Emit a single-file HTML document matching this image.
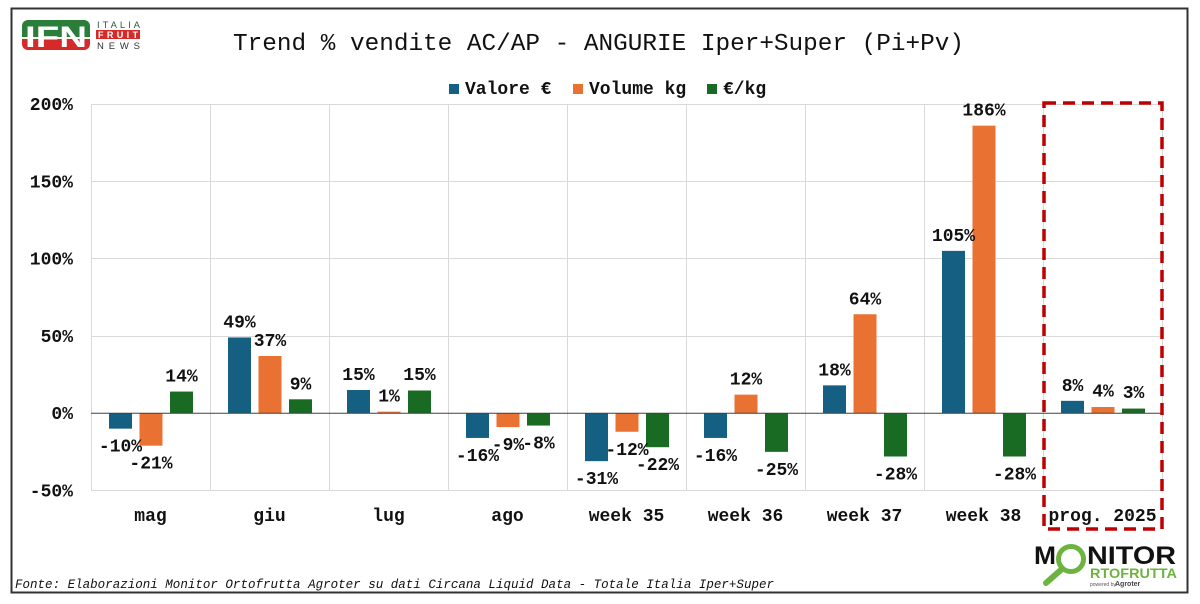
<!DOCTYPE html>
<html>
<head>
<meta charset="utf-8">
<style>
  html,body{margin:0;padding:0;background:#fff;}
  svg{display:block;}
  .mono{font-family:"Liberation Mono","DejaVu Sans Mono",monospace;}
  .lbl{font-family:"Liberation Mono","DejaVu Sans Mono",monospace;font-weight:bold;font-size:18px;fill:#111;}
</style>
</head>
<body>
<svg width="1200" height="604" viewBox="0 0 1200 604" xmlns="http://www.w3.org/2000/svg">
  <rect x="0" y="0" width="1200" height="604" fill="#fff"/>
  <!-- outer border -->
  <rect x="11.5" y="8.5" width="1176" height="584" fill="none" stroke="#333" stroke-width="2"/>

  <!-- IFN logo -->
  <defs>
    <clipPath id="ifnclip"><rect x="22" y="20" width="68" height="30" rx="6" ry="6"/></clipPath>
  </defs>
  <g clip-path="url(#ifnclip)">
    <rect x="22" y="20" width="68" height="17" fill="#2b7d3a"/>
    <rect x="22" y="37" width="68" height="2" fill="#f4f4f4"/>
    <rect x="22" y="39" width="68" height="11" fill="#d42a2a"/>
  </g>
  <text x="25" y="47" font-family="Liberation Sans, sans-serif" font-weight="bold" font-size="30" fill="#fff" textLength="62" lengthAdjust="spacingAndGlyphs">IFN</text>
  <text x="97" y="28" font-family="Liberation Sans, sans-serif" font-size="9.5" fill="#2b5d3a" textLength="43" lengthAdjust="spacing">ITALIA</text>
  <rect x="96" y="30" width="44" height="9" fill="#d42a2a"/>
  <text x="98" y="38" font-family="Liberation Sans, sans-serif" font-size="9" fill="#fff" font-weight="bold" textLength="40" lengthAdjust="spacing">FRUIT</text>
  <text x="97" y="49" font-family="Liberation Sans, sans-serif" font-size="9.5" fill="#333" textLength="43" lengthAdjust="spacing">NEWS</text>

  <!-- Title -->
  <text class="mono" x="233" y="50" font-size="24" fill="#111" textLength="731" lengthAdjust="spacingAndGlyphs">Trend % vendite AC/AP - ANGURIE Iper+Super (Pi+Pv)</text>

  <!-- Legend -->
  <rect x="449" y="84" width="10" height="10" fill="#156082"/>
  <text class="lbl" x="465" y="94">Valore €</text>
  <rect x="573" y="84" width="10" height="10" fill="#E97132"/>
  <text class="lbl" x="589" y="94">Volume kg</text>
  <rect x="707" y="84" width="10" height="10" fill="#196B24"/>
  <text class="lbl" x="723" y="94">€/kg</text>

  <!-- Gridlines horizontal -->
  <g stroke="#d9d9d9" stroke-width="1">
    <line x1="91" y1="104.5" x2="1162" y2="104.5"/>
    <line x1="91" y1="181.5" x2="1162" y2="181.5"/>
    <line x1="91" y1="258.5" x2="1162" y2="258.5"/>
    <line x1="91" y1="336.5" x2="1162" y2="336.5"/>
    <line x1="91" y1="490.5" x2="1162" y2="490.5"/>
    <!-- vertical -->
    <line x1="91.5" y1="104" x2="91.5" y2="491"/>
    <line x1="210.5" y1="104" x2="210.5" y2="491"/>
    <line x1="329.5" y1="104" x2="329.5" y2="491"/>
    <line x1="448.5" y1="104" x2="448.5" y2="491"/>
    <line x1="567.5" y1="104" x2="567.5" y2="491"/>
    <line x1="686.5" y1="104" x2="686.5" y2="491"/>
    <line x1="805.5" y1="104" x2="805.5" y2="491"/>
    <line x1="924.5" y1="104" x2="924.5" y2="491"/>
    <line x1="1043.5" y1="104" x2="1043.5" y2="491"/>
    <line x1="1162.5" y1="104" x2="1162.5" y2="491"/>
  </g>

  <!-- Y labels -->
  <g class="lbl" text-anchor="end">
    <text x="73" y="110">200%</text>
    <text x="73" y="187.5">150%</text>
    <text x="73" y="264.5">100%</text>
    <text x="73" y="342">50%</text>
    <text x="73" y="419">0%</text>
    <text x="73" y="496.5">-50%</text>
  </g>

  <!-- Bars -->
  <g>
    <!-- mag -->
    <rect x="109" y="413.2" width="23" height="15.46" fill="#156082"/>
    <rect x="139.5" y="413.2" width="23" height="32.47" fill="#E97132"/>
    <rect x="170" y="391.56" width="23" height="21.64" fill="#196B24"/>
    <!-- giu -->
    <rect x="228" y="337.45" width="23" height="75.75" fill="#156082"/>
    <rect x="258.5" y="356.0" width="23" height="57.2" fill="#E97132"/>
    <rect x="289" y="399.29" width="23" height="13.91" fill="#196B24"/>
    <!-- lug -->
    <rect x="347" y="390.0" width="23" height="23.2" fill="#156082"/>
    <rect x="377.5" y="411.65" width="23" height="1.55" fill="#E97132"/>
    <rect x="408" y="390.5" width="23" height="22.7" fill="#196B24"/>
    <!-- ago -->
    <rect x="466" y="413.2" width="23" height="24.74" fill="#156082"/>
    <rect x="496.5" y="413.2" width="23" height="13.91" fill="#E97132"/>
    <rect x="527" y="413.2" width="23" height="12.37" fill="#196B24"/>
    <!-- week 35 -->
    <rect x="585" y="413.2" width="23" height="47.93" fill="#156082"/>
    <rect x="615.5" y="413.2" width="23" height="18.55" fill="#E97132"/>
    <rect x="646" y="413.2" width="23" height="34.01" fill="#196B24"/>
    <!-- week 36 -->
    <rect x="704" y="413.2" width="23" height="24.74" fill="#156082"/>
    <rect x="734.5" y="394.65" width="23" height="18.55" fill="#E97132"/>
    <rect x="765" y="413.2" width="23" height="38.65" fill="#196B24"/>
    <!-- week 37 -->
    <rect x="823" y="385.37" width="23" height="27.83" fill="#156082"/>
    <rect x="853.5" y="314.26" width="23" height="98.94" fill="#E97132"/>
    <rect x="884" y="413.2" width="23" height="43.29" fill="#196B24"/>
    <!-- week 38 -->
    <rect x="942" y="250.87" width="23" height="162.33" fill="#156082"/>
    <rect x="972.5" y="125.64" width="23" height="287.56" fill="#E97132"/>
    <rect x="1003" y="413.2" width="23" height="43.29" fill="#196B24"/>
    <!-- prog 2025 -->
    <rect x="1061" y="400.83" width="23" height="12.37" fill="#156082"/>
    <rect x="1091.5" y="407.02" width="23" height="6.18" fill="#E97132"/>
    <rect x="1122" y="408.56" width="23" height="4.64" fill="#196B24"/>
  </g>

  <!-- zero line -->
  <line x1="91" y1="413.2" x2="1162" y2="413.2" stroke="#404040" stroke-width="1"/>

  <!-- Data labels -->
  <g class="lbl" text-anchor="middle">
    <text x="120.5" y="451.7">-10%</text>
    <text x="151" y="468.7">-21%</text>
    <text x="181.5" y="381.6">14%</text>

    <text x="239.5" y="327.5">49%</text>
    <text x="270" y="346">37%</text>
    <text x="300.5" y="389.3">9%</text>

    <text x="358.5" y="380">15%</text>
    <text x="389" y="401.7">1%</text>
    <text x="419.5" y="380">15%</text>

    <text x="477.5" y="460.9">-16%</text>
    <text x="508" y="450.1">-9%</text>
    <text x="538.5" y="448.6">-8%</text>

    <text x="596.5" y="484.1">-31%</text>
    <text x="627" y="454.8">-12%</text>
    <text x="657.5" y="470.2">-22%</text>

    <text x="715.5" y="460.9">-16%</text>
    <text x="746" y="384.7">12%</text>
    <text x="776.5" y="474.9">-25%</text>

    <text x="834.5" y="375.4">18%</text>
    <text x="865" y="304.3">64%</text>
    <text x="895.5" y="479.5">-28%</text>

    <text x="953.5" y="240.9">105%</text>
    <text x="984" y="115.6">186%</text>
    <text x="1014.5" y="479.5">-28%</text>

    <text x="1072.5" y="391">8%</text>
    <text x="1103" y="396.5">4%</text>
    <text x="1133.5" y="398">3%</text>
  </g>

  <!-- Category labels -->
  <g class="lbl" text-anchor="middle">
    <text x="150.5" y="521">mag</text>
    <text x="269.5" y="521">giu</text>
    <text x="388.5" y="521">lug</text>
    <text x="507.5" y="521">ago</text>
    <text x="626.5" y="521">week 35</text>
    <text x="745.5" y="521">week 36</text>
    <text x="864.5" y="521">week 37</text>
    <text x="983.5" y="521">week 38</text>
    <text x="1102.5" y="521">prog. 2025</text>
  </g>

  <!-- Red dashed box -->
  <rect x="1044" y="103" width="118" height="426" fill="none" stroke="#c00000" stroke-width="3.5" stroke-dasharray="12 7"/>

  <!-- Footer -->
  <text class="mono" x="15" y="588" font-size="12.5" font-style="italic" fill="#111" textLength="759" lengthAdjust="spacingAndGlyphs">Fonte: Elaborazioni Monitor Ortofrutta Agroter su dati Circana Liquid Data - Totale Italia Iper+Super</text>

  <!-- Monitor Ortofrutta logo -->
  <text x="1034" y="564" font-family="Liberation Sans, sans-serif" font-weight="bold" font-size="25" fill="#111" textLength="22" lengthAdjust="spacingAndGlyphs">M</text>
  <circle cx="1071" cy="559" r="12.5" fill="none" stroke="#6cb33f" stroke-width="5"/>
  <line x1="1062" y1="569" x2="1046" y2="583" stroke="#6cb33f" stroke-width="6" stroke-linecap="round"/>
  <text x="1087" y="564" font-family="Liberation Sans, sans-serif" font-weight="bold" font-size="25" fill="#111" textLength="89" lengthAdjust="spacingAndGlyphs">NITOR</text>
  <text x="1090" y="578" font-family="Liberation Sans, sans-serif" font-weight="bold" font-size="14" fill="#6cb33f" textLength="87" lengthAdjust="spacingAndGlyphs">RTOFRUTTA</text>
  <text x="1090" y="586" font-family="Liberation Sans, sans-serif" font-size="5" fill="#555">powered by</text>
  <text x="1115" y="586" font-family="Liberation Sans, sans-serif" font-weight="bold" font-size="7" fill="#444">Agroter</text>
</svg>
</body>
</html>
